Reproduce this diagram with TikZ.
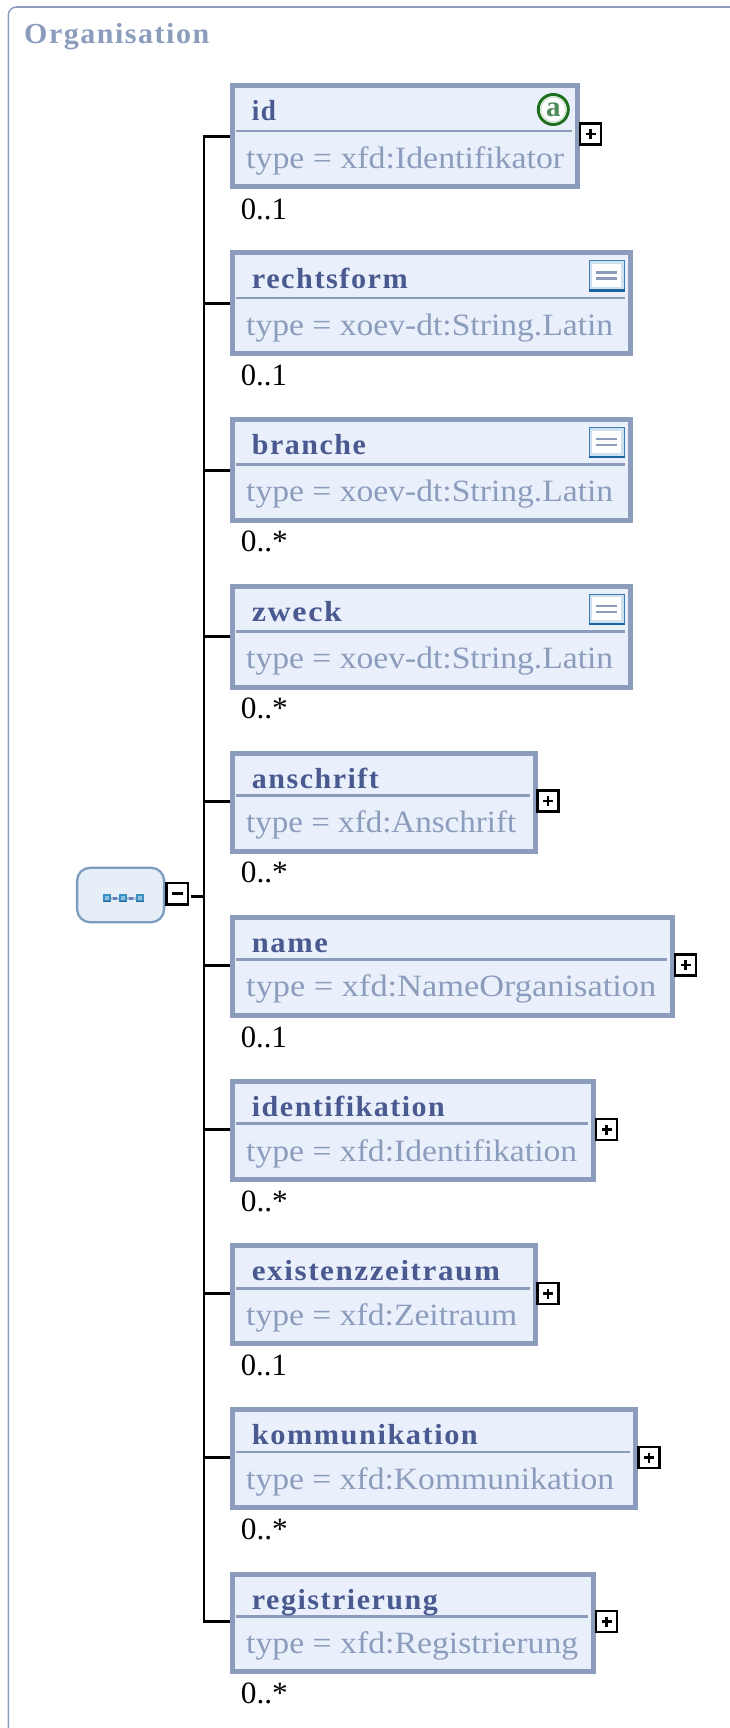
\documentclass[tikz,border=0pt]{standalone}
\usepackage{fontspec}
\usepackage{graphicx}
\setmainfont{Liberation Serif}
\newfontfamily\spacedbold[LetterSpace=5]{Liberation Serif Bold}
\definecolor{bordercol}{HTML}{8C9CBC}
\definecolor{fillcol}{HTML}{E9F0FB}
\definecolor{namecol}{HTML}{4A5A90}
\definecolor{framecol}{HTML}{8C9CBC}
\definecolor{seqfill}{HTML}{E6EEF7}
\definecolor{seqline}{HTML}{7C9DBF}
\definecolor{notea}{HTML}{3C7EB4}
\definecolor{noteb}{HTML}{1A65A0}
\definecolor{notec}{HTML}{CFE0EE}
\definecolor{atgreen}{HTML}{1E6E1E}
\definecolor{atfill}{HTML}{4E8A5A}
\definecolor{athalo}{HTML}{D5E6D5}
\definecolor{dottop}{HTML}{3A8FC0}
\definecolor{dotbot}{HTML}{2A6699}
\definecolor{dotmid}{HTML}{8FC0E0}
\definecolor{dotlink}{HTML}{B0BEDC}
\definecolor{dotlinkb}{HTML}{5F7FB8}
\newcommand{\fitw}[2]{\resizebox{#1pt}{\height}{#2}}
\newcommand{\elem}[9]{%
  % #1 id #2 top #3 bottom #4 right #5 divider #6 conn #7 name #8 name right #9 name baseline
  \node[elbox, minimum width={#4-230-5}, minimum height={#3-#2-5}] (#1) at ({(230+#4)/2},{(#2+#3)/2}) {};
  \draw[divline] (235.7,#5) -- (#4-8,#5);
  \draw[trunkline] (trunktop |- 0,#6) -- (230,#6);
  \node[namelabel] (#1name) at (251.7,#9) {\fitw{\the\numexpr #8-252\relax}{#7}};
}
\tikzset{
  x=1pt,y=-1pt,
  elbox/.style={draw=bordercol,fill=fillcol,line width=5pt,inner sep=0pt,rectangle},
  divline/.style={draw=bordercol,line width=2.7pt},
  trunkline/.style={draw=black,line width=2.7pt},
  namelabel/.style={anchor=base west,inner sep=0pt,text=namecol,font=\fontsize{29}{29}\spacedbold},
  typelabel/.style={anchor=base west,inner sep=0pt,text=bordercol,font=\fontsize{31}{31}\selectfont},
  cardlabel/.style={anchor=base west,inner sep=0pt,text=black,font=\fontsize{31}{31}\selectfont},
  toggle/.style={draw=black,fill=white,line width=2.5pt,minimum size=21.3pt,inner sep=0pt,rectangle},
  togglemark/.style={draw=black,line width=2.6pt},
  seqdot/.style={rectangle,fill=dotbot,minimum size=8pt,inner sep=0pt},
}
\begin{document}
\begin{tikzpicture}
\useasboundingbox (0,0) rectangle (730,1728);
\fill[white] (0,0) rectangle (730,1728);
% frame
\draw[framecol,line width=1.4pt,rounded corners=8pt] (8.3,1730) -- (8.3,7) -- (732,7);
\draw[framecol,line width=2pt] (16.3,7) -- (730,7);
\node[anchor=base west,inner sep=0pt,text=bordercol,font=\fontsize{29}{29}\spacedbold] (title) at (24,44) {\fitw{185}{Organisation}};
% trunk
\coordinate (trunktop) at (204,136.5);
\coordinate (trunkbot) at (204,1621.5);
\draw[trunkline,line cap=rect] (trunktop) -- (trunkbot);
% elements
\elem{id}{83.5}{189.3}{580}{131}{136.5}{id}{276}{120.7}
\elem{rechtsform}{250}{356}{633}{298}{303.5}{rechtsform}{408}{288}
\elem{branche}{417.3}{523}{633}{464.7}{470.5}{branche}{366}{454.3}
\elem{zweck}{584}{689.7}{633}{631.3}{636.5}{zweck}{342}{621}
\elem{anschrift}{750.7}{853.7}{537.7}{795.7}{801.5}{anschrift}{379}{788.7}
\elem{nameel}{915}{1018}{675}{959.7}{965.5}{name}{328}{952.3}
\elem{identifikation}{1079.3}{1182.3}{595.7}{1123.7}{1129.5}{identifikation}{445}{1116}
\elem{existenz}{1243.3}{1346.3}{537.7}{1288.3}{1293.5}{existenzzeitraum}{500}{1280}
\elem{kommunikation}{1407.3}{1510.3}{638}{1452}{1457.5}{kommunikation}{478}{1444}
\elem{registrierung}{1571.7}{1674.3}{595.7}{1616.3}{1621.5}{registrierung}{438}{1609.3}
% type lines
\node[typelabel] (t1) at (246,168.3) {\fitw{318}{type = xfd:Identifikator}};
\node[typelabel] (t2) at (246,335) {\fitw{367}{type = xoev-dt:String.Latin}};
\node[typelabel] (t3) at (246,501.7) {\fitw{367}{type = xoev-dt:String.Latin}};
\node[typelabel] (t4) at (246,668.7) {\fitw{367}{type = xoev-dt:String.Latin}};
\node[typelabel] (t5) at (246,832.7) {\fitw{270}{type = xfd:Anschrift}};
\node[typelabel] (t6) at (246,996.7) {\fitw{410}{type = xfd:NameOrganisation}};
\node[typelabel] (t7) at (246,1161) {\fitw{331}{type = xfd:Identifikation}};
\node[typelabel] (t8) at (246,1325) {\fitw{271}{type = xfd:Zeitraum}};
\node[typelabel] (t9) at (246,1489) {\fitw{368}{type = xfd:Kommunikation}};
\node[typelabel] (t10) at (246,1653.3) {\fitw{332}{type = xfd:Registrierung}};
% cardinalities
\node[cardlabel] (c1) at (240.7,219) {\fitw{46}{0..1}};
\node[cardlabel] (c2) at (240.7,385.5) {\fitw{46}{0..1}};
\node[cardlabel] (c3) at (240.7,551.7) {\fitw{47}{0..*}};
\node[cardlabel] (c4) at (240.7,718.5) {\fitw{47}{0..*}};
\node[cardlabel] (c5) at (240.7,882.7) {\fitw{47}{0..*}};
\node[cardlabel] (c6) at (240.7,1047) {\fitw{46}{0..1}};
\node[cardlabel] (c7) at (240.7,1211) {\fitw{47}{0..*}};
\node[cardlabel] (c8) at (240.7,1375.5) {\fitw{46}{0..1}};
\node[cardlabel] (c9) at (240.7,1539) {\fitw{47}{0..*}};
\node[cardlabel] (c10) at (240.7,1703.3) {\fitw{47}{0..*}};
% plus toggles
\foreach \n/\cx/\cy in {p1/590.5/134,p5/548/801,p6/685.5/965,p7/606.5/1129.5,p8/548/1293.5,p9/649/1457.5,p10/606.5/1621.5}{
  \node[toggle] (\n) at (\cx,\cy) {};
  \draw[togglemark] (\cx-5,\cy) -- (\cx+5,\cy);
  \draw[togglemark] (\cx,\cy-5) -- (\cx,\cy+5);
}
% note icons
\foreach \n/\cy in {n2/275.3,n3/442,n4/608.7}{
  \node[rectangle,draw=notea,fill=white,line width=2.4pt,minimum width=34pt,minimum height=28pt,inner sep=0pt] (\n) at (606.7,\cy) {};
  \draw[noteb,line width=2.4pt] (\n.south west) -- (\n.south east);
  \draw[notec,line width=2.6pt] ([shift={(2.6,-2.6)}]\n.south west) -- ([shift={(-2.6,-2.6)}]\n.south east) -- ([shift={(-2.6,2.6)}]\n.north east) -- ([shift={(2.6,2.6)}]\n.north west) -- cycle;
  \draw[bordercol,line width=2.4pt] (596,\cy-3) -- (617,\cy-3);
  \draw[bordercol,line width=2.4pt] (596,\cy+3) -- (617,\cy+3);
}
% attribute icon
\node[circle,draw=atgreen,fill=white,line width=3pt,minimum size=30pt,inner sep=0pt] (atring) at (553.3,109.5) {};
\draw[athalo,line width=1.6pt] (atring.center) circle[radius=12.6];
\node[inner sep=0pt,text=atfill,font=\fontsize{29}{29}\bfseries\selectfont] (atid) at (553.3,109.5) {a};
% sequence
\node[rectangle,rounded corners=13pt,draw=seqline,fill=seqfill,line width=2.3pt,minimum width=87pt,minimum height=54.5pt,inner sep=0pt] (seq) at (120.6,895) {};
\draw[dotlink,line width=3pt] (107,898) -- (140,898);
\draw[dotlinkb,line width=3pt] (113,898) -- (117,898);
\draw[dotlinkb,line width=3pt] (129,898) -- (133,898);
\node[seqdot] (d1) at (107,898) {};
\node[seqdot] (d2) at (123,898) {};
\node[seqdot] (d3) at (140,898) {};
\foreach \d in {d1,d2,d3}{
  \fill[dottop] (\d.north west) rectangle ([yshift=-3pt]\d.east);
  \fill[dotmid] ([shift={(-1.6,-1.6)}]\d.center) rectangle ([shift={(1.6,1.6)}]\d.center);
}
\node[toggle] (minus) at (177.3,893.8) {};
\draw[togglemark] (172,893.5) -- (182.7,893.5);
\coordinate (minusout) at (191.3,896.5);
\draw[trunkline] (minusout) -- (204,896.5);
\end{tikzpicture}
\end{document}
